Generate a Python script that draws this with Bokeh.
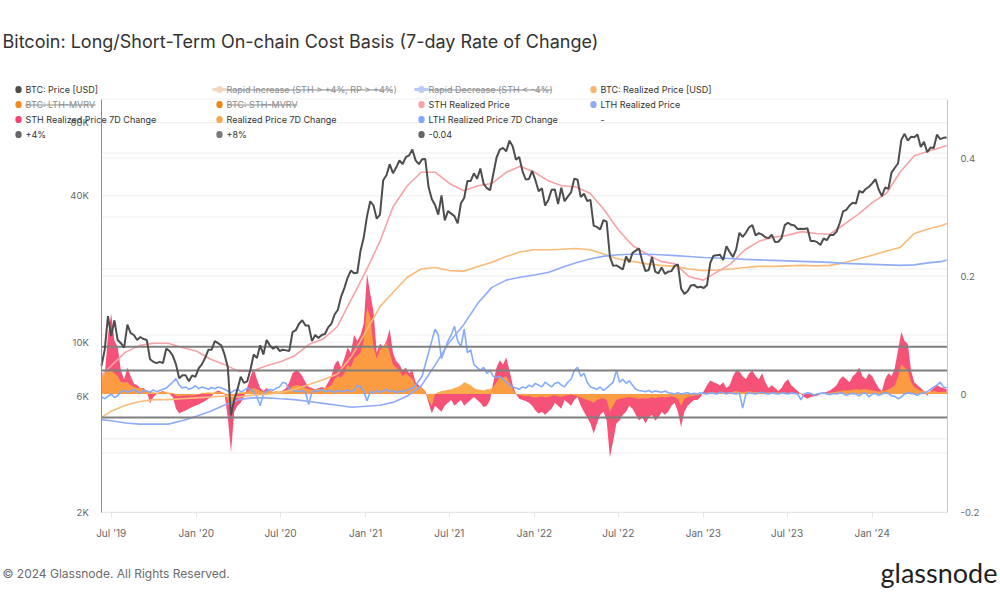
import pandas as pd
from bokeh.plotting import figure
from bokeh.models import (Range1d, LinearAxis, LinearScale, FixedTicker, DatetimeTickFormatter, Label)
from bokeh.embed import file_html
from bokeh.resources import INLINE

FONT = "Inter"

# ---------------------------------------------------------------- texts
TITLE = "Bitcoin: Long/Short-Term On-chain Cost Basis (7-day Rate of Change)"
FOOTER = "\u00a9 2024 Glassnode. All Rights Reserved."
BRAND = "glassnode"

# ---------------------------------------------------------------- data
WEEK_START = "2019-06-10"

# BTC price [USD], weekly
btc_price = [
    # 2019
    8000, 9300, 12800, 10600, 12300, 10200, 9900, 9500, 11800, 10900, 10700, 10200, 10500, 10300, 10200,
    8500, 8300, 8200, 8300, 8200, 9400, 9200, 8800, 8100, 7100, 7300, 7300, 6900, 7300, 7200,
    # 2020
    7800, 8100, 8600, 9300, 9300, 10100, 9900, 9700, 8900, 7900, 5000, 5800, 6400, 7200, 6800, 6900,
    7700, 8900, 8600, 9700, 8900, 10200, 9700, 9400, 9600, 9200, 9300, 9250, 9200, 11000, 11200, 11900,
    12300, 11700, 11700, 10100, 10700, 10400, 10700, 10800, 11500, 11900, 13000, 13600, 15400, 16700,
    18400, 19700, 19200, 19300, 23800, 27000,
    # 2021
    33000, 38000, 36500, 32200, 33500, 46400, 48600, 54000, 49600, 52300, 56000, 54100, 57700, 58700,
    62000, 56000, 54000, 56600, 56700, 43500, 38800, 36700, 33500, 40200, 31700, 34600, 33800, 33000,
    30800, 37300, 39200, 46000, 46000, 49500, 47000, 51800, 44900, 43000, 42200, 49200, 57500, 62000,
    63000, 61000, 67500, 63800, 56300, 57800, 50600, 46700, 46900, 50700,
    # 2022
    46400, 41800, 43000, 36500, 38500, 42400, 42500, 37000, 43200, 38000, 39700, 41300, 47100, 46600,
    39500, 40800, 38100, 38500, 30100, 29800, 29100, 31800, 31300, 22500, 20600, 20700, 20300, 19900,
    22500, 21300, 23300, 23800, 24300, 21500, 19600, 19800, 22400, 19500, 19200, 20300, 19100, 19500,
    19600, 20600, 20900, 16600, 15800, 16200, 17100, 17200, 16800, 16900,
    # 2023
    16700, 17200, 21200, 22700, 22800, 22900, 21800, 24800, 23500, 22400, 24100, 28200, 27100, 28200,
    29700, 30300, 27500, 28100, 27700, 27000, 26800, 27700, 25800, 25900, 26800, 30300, 31000, 30400,
    30200, 29200, 29300, 29200, 29400, 26100, 26100, 25800, 25100, 26700, 26300, 27600, 27600, 28500,
    31000, 34500, 35000, 36500, 37500, 37200, 41900, 41200, 42700, 43600,
    # 2024
    45000, 46900, 42500, 39900, 43300, 42700, 50000, 52200, 54500, 68000, 72000, 67500, 70000, 69700,
    71600, 63500, 66800, 60500, 63200, 62900, 71400, 68500, 69300, 69600,
]

# STH realized price 7D change (weekly)
sth_rp_7d_change = [
    # 2019
    0.02, 0.03, 0.10, 0.136, 0.09, 0.08, 0.04, 0.025, 0.045, 0.03, 0.018, 0.015, 0.01, 0.01, 0.005,
    -0.016, -0.005, 0.0, 0.003, 0.005, 0.002, 0.0, -0.005, -0.025, -0.033, -0.03, -0.028, -0.025, -0.022, -0.02,
    # 2020
    -0.018, -0.015, -0.012, -0.008, -0.004, 0.003, 0.006, 0.004, 0.0, -0.04, -0.099, -0.03, -0.02, -0.015,
    -0.005, 0.01, 0.03, 0.043, 0.025, 0.01, 0.005, 0.01, 0.006, 0.003, 0.002, 0.004, 0.006, 0.01, 0.02,
    0.035, 0.04, 0.038, 0.03, 0.02, 0.012, 0.01, 0.008, 0.01, 0.012, 0.01, 0.02, 0.03, 0.05, 0.057, 0.045,
    0.06, 0.079, 0.07, 0.1, 0.09, 0.1, 0.12,
    # 2021
    0.204, 0.17, 0.14, 0.07, 0.085, 0.08, 0.09, 0.11, 0.07, 0.056, 0.05, 0.04, 0.045, 0.035, 0.04, 0.02,
    0.015, 0.01, 0.005, -0.015, -0.033, -0.02, -0.025, -0.03, -0.02, -0.015, -0.01, -0.02, -0.015, -0.01,
    -0.02, -0.015, -0.01, -0.005, -0.01, -0.015, -0.022, -0.02, -0.01, 0.02, 0.045, 0.057, 0.05, 0.062,
    0.04, 0.015, 0.0, -0.008, -0.01, -0.012, -0.015, -0.02,
    # 2022
    -0.028, -0.033, -0.03, -0.035, -0.03, -0.025, -0.015, -0.02, -0.025, -0.01, -0.015, -0.02, -0.01,
    -0.005, -0.02, -0.03, -0.04, -0.05, -0.067, -0.05, -0.035, -0.03, -0.045, -0.107, -0.08, -0.05,
    -0.045, -0.035, -0.03, -0.02, -0.025, -0.035, -0.045, -0.04, -0.05, -0.04, -0.035, -0.045, -0.04,
    -0.03, -0.035, -0.03, -0.02, -0.015, -0.03, -0.056, -0.03, -0.02, -0.015, -0.01, -0.01, -0.005,
    # 2023
    0.005, 0.015, 0.023, 0.02, 0.018, 0.015, 0.02, 0.01, 0.015, 0.03, 0.04, 0.038, 0.03, 0.025, 0.035,
    0.04, 0.03, 0.025, 0.035, 0.02, 0.01, 0.015, 0.01, 0.005, 0.01, 0.02, 0.025, 0.015, 0.01, 0.005, 0.0,
    -0.005, -0.008, -0.005, -0.004, -0.003, 0.0, 0.002, 0.004, 0.006, 0.01, 0.015, 0.025, 0.03, 0.025,
    0.02, 0.03, 0.035, 0.045, 0.03, 0.025, 0.035,
    # 2024
    0.03, 0.02, 0.01, 0.005, 0.025, 0.035, 0.03, 0.045, 0.075, 0.105, 0.09, 0.085, 0.04, 0.02, 0.015,
    0.01, 0.005, -0.003, 0.005, 0.01, 0.015, 0.012, 0.01, 0.008,
]

# Realized price 7D change (weekly)
rp_7d_change = [
    # 2019
    0.03, 0.035, 0.04, 0.04, 0.035, 0.03, 0.02, 0.02, 0.02, 0.015, 0.012, 0.01, 0.01, 0.008, 0.006, 0.004,
    0.003, 0.002, 0.003, 0.004, 0.003, 0.002, 0.002, -0.003, -0.004, -0.003, -0.003, -0.002, -0.003, -0.002,
    # 2020
    -0.001, 0.002, 0.002, 0.003, 0.002, 0.003, 0.004, 0.003, 0.002, -0.01, -0.03, -0.005, 0.002, 0.003,
    0.003, 0.004, 0.008, 0.01, 0.008, 0.005, 0.004, 0.005, 0.006, 0.004, 0.005, 0.004, 0.005, 0.006,
    0.008, 0.013, 0.015, 0.015, 0.012, 0.01, 0.008, 0.007, 0.008, 0.009, 0.008, 0.01, 0.012, 0.015,
    0.025, 0.03, 0.028, 0.035, 0.05, 0.045, 0.06, 0.065, 0.07, 0.09,
    # 2021
    0.147, 0.13, 0.08, 0.06, 0.075, 0.08, 0.087, 0.07, 0.05, 0.045, 0.04, 0.03, 0.035, 0.03, 0.025,
    0.015, 0.01, 0.01, 0.005, -0.01, -0.02, 0.0, 0.003, 0.005, 0.006, 0.007, 0.008, 0.01, 0.012, 0.015,
    0.02, 0.018, 0.015, 0.01, 0.008, 0.007, 0.006, 0.008, 0.008, 0.012, 0.02, 0.03, 0.028, 0.03, 0.02,
    0.008, 0.0, -0.002, -0.003, -0.004, -0.003, -0.005,
    # 2022
    -0.006, -0.005, -0.004, -0.006, -0.005, -0.003, -0.002, -0.004, -0.005, -0.003, -0.002, -0.001,
    -0.002, -0.004, -0.006, -0.008, -0.01, -0.012, -0.015, -0.01, -0.008, -0.007, -0.01, -0.03, -0.02,
    -0.01, -0.008, -0.007, -0.006, -0.005, -0.006, -0.007, -0.008, -0.007, -0.008, -0.007, -0.006,
    -0.007, -0.006, -0.005, -0.006, -0.005, -0.004, -0.005, -0.008, -0.02, -0.008, -0.005, -0.004,
    -0.003, -0.002, -0.001,
    # 2023
    0.001, 0.002, 0.003, 0.003, 0.002, 0.002, 0.003, 0.002, 0.003, 0.004, 0.005, 0.004, 0.003, 0.004,
    0.005, 0.004, 0.003, 0.003, 0.002, 0.002, 0.003, 0.002, 0.002, 0.003, 0.003, 0.002, 0.002, 0.001,
    0.001, 0.002, 0.001, 0.0, 0.0, 0.001, 0.0, 0.0, 0.001, 0.001, 0.002, 0.002, 0.003, 0.004, 0.005,
    0.006, 0.006, 0.006, 0.007, 0.008, 0.007, 0.008, 0.008, 0.007,
    # 2024
    0.006, 0.005, 0.004, 0.005, 0.006, 0.008, 0.01, 0.015, 0.03, 0.05, 0.045, 0.04, 0.02, 0.012, 0.008,
    0.006, 0.005, 0.004, 0.004, 0.005, 0.004, 0.003, 0.004, 0.004,
]

# LTH realized price 7D change (weekly)
lth_rp_7d_change = [
    # 2019
    -0.005, -0.008, -0.004, 0.0, -0.006, -0.003, 0.004, 0.006, 0.003, 0.005, 0.008, 0.004, 0.002, 0.006,
    0.005, 0.003, 0.007, 0.004, 0.006, 0.008, 0.01, 0.015, 0.02, 0.026, 0.015, 0.01, 0.012, 0.008, 0.01, 0.014,
    # 2020
    0.009, 0.012, 0.01, 0.008, 0.011, 0.009, 0.012, 0.01, 0.008, 0.005, 0.002, 0.006, 0.008, 0.004,
    0.006, 0.01, 0.008, 0.004, -0.005, -0.02, 0.0, 0.005, 0.008, 0.006, 0.01, 0.012, 0.02, 0.018, 0.008,
    0.006, 0.005, 0.004, 0.006, 0.003, -0.018, 0.004, 0.006, 0.005, 0.008, 0.004, 0.006, 0.005, 0.003,
    0.006, 0.004, 0.005, 0.007, 0.004, 0.006, 0.015, 0.012, 0.005,
    # 2021
    -0.012, 0.004, 0.002, 0.006, 0.003, 0.005, 0.008, 0.004, 0.006, 0.002, 0.005, 0.004, 0.006, 0.008,
    0.01, 0.015, 0.022, 0.03, 0.05, 0.07, 0.09, 0.11, 0.1, 0.06, 0.075, 0.09, 0.1, 0.115, 0.09, 0.08,
    0.11, 0.07, 0.075, 0.05, 0.045, 0.04, 0.045, 0.035, 0.04, 0.03, 0.028, 0.03, 0.025, 0.02, 0.015,
    0.012, 0.01, 0.008, 0.012, 0.01, 0.015, 0.012,
    # 2022
    0.018, 0.015, 0.012, 0.02, 0.016, 0.012, 0.018, 0.02, 0.015, 0.012, 0.02, 0.025, 0.04, 0.045, 0.03,
    0.035, 0.02, 0.012, 0.01, 0.008, 0.012, 0.006, 0.01, 0.015, 0.02, 0.04, 0.02, 0.025, 0.018, 0.022,
    0.015, 0.008, 0.006, 0.005, 0.004, 0.006, 0.003, 0.005, 0.004, 0.003, 0.005, 0.002, 0.001, 0.0,
    0.002, 0.0, 0.001, 0.002, 0.0, 0.001, 0.0, 0.002,
    # 2023
    0.001, 0.0, 0.002, 0.001, 0.0, 0.003, 0.002, 0.0, 0.002, 0.001, 0.0, 0.002, -0.024, 0.0, 0.002,
    0.001, 0.0, 0.002, 0.003, 0.001, 0.0, 0.002, 0.001, 0.0, 0.002, 0.001, 0.0, 0.002, 0.001, 0.0,
    -0.01, 0.0, 0.002, 0.001, -0.002, 0.0, 0.001, 0.002, 0.0, -0.001, 0.001, 0.0, 0.002, 0.001, -0.002,
    0.0, 0.001, 0.0, -0.003, 0.001, 0.002, -0.005,
    # 2024
    0.0, 0.001, -0.002, 0.0, 0.002, 0.001, -0.003, -0.004, -0.008, -0.005, 0.0, 0.002, 0.001, 0.0,
    -0.002, 0.001, 0.002, 0.004, 0.008, 0.012, 0.015, 0.02, 0.012, 0.01,
]

# monthly cost-basis series (first of month, plus the two end points)
month_dates = (["2019-06-10"]
               + [d.strftime("%Y-%m-%d") for d in pd.date_range("2019-07-01", "2024-06-01", freq="MS")]
               + ["2024-06-10"])

sth_realized_price = [
    7300, 8000, 9100, 9700, 9900, 9900, 9500,
    9200, 8500, 8100, 7600, 7600, 8000, 8300, 8800, 9800, 10300, 11600, 15000,
    19500, 26000, 36000, 44000, 50000, 50000, 45000, 42000, 44000, 45000, 50000, 53000,
    50000, 46000, 44000, 43500, 41000, 35000, 29000, 25000, 23000, 21500, 21000, 18600,
    18000, 19500, 21000, 24000, 26000, 27000, 27500, 28500, 28000, 27800, 30500, 33500,
    37500, 41000, 50000, 58500, 61000, 63500, 64400,
]
realized_price = [
    4900, 5200, 5500, 5700, 5800, 5800, 5850,
    5900, 5950, 6000, 5950, 6050, 6100, 6200, 6400, 6700, 7000, 7400, 8700,
    11000, 14000, 16000, 18500, 20000, 20300, 19700, 19600, 20500, 21300, 22500, 23500,
    24000, 24000, 24100, 24300, 24000, 23000, 22000, 21500, 21000, 20700, 20500, 20000,
    19700, 19800, 20000, 20300, 20500, 20500, 20600, 20700, 20600, 20700, 21200, 22000,
    22800, 23700, 24500, 28000, 29200, 30300, 30800,
]
lth_realized_price = [
    4800, 4750, 4650, 4600, 4600, 4600, 4750,
    4950, 5200, 5500, 5800, 5900, 5900, 5850, 5800, 5700, 5600, 5500, 5400,
    5450, 5500, 5650, 6000, 6600, 8100, 10000, 11800, 14500, 16800, 18000, 18500,
    18900, 19400, 20300, 21200, 22000, 22600, 22900, 23000, 23000, 22900, 22700, 22500,
    22300, 22200, 22100, 21900, 21800, 21700, 21600, 21500, 21400, 21300, 21100, 21000,
    20900, 20800, 20700, 20800, 21200, 21500, 21800,
]

# threshold lines (right axis)
threshold_levels = [0.04, 0.08, -0.04]

# axes
window_start, window_end = "2019-06-10 16:00", "2024-06-12"
x_ticks = ["2019-07-01", "2020-01-01", "2020-07-01", "2021-01-01", "2021-07-01",
           "2022-01-01", "2022-07-01", "2023-01-01", "2023-07-01", "2024-01-01"]
left_bounds = (2000, 100000)
left_ticks = [2000, 6000, 10000, 40000, 80000]
left_tick_labels = ["2K", "6K", "10K", "40K", "80K"]
left_grid = [4000, 6000, 10000, 20000, 40000, 60000, 80000]
right_bounds = (-0.2, 0.5)
right_ticks = [-0.2, 0.0, 0.2, 0.4]
right_tick_labels = ["-0.2", "0", "0.2", "0.4"]
right_grid = [-0.2, -0.1, 0.0, 0.1, 0.2, 0.3, 0.4, 0.5]

legend_rows = [
    ["BTC: Price [USD]", "Rapid Increase (STH > +4%, RP > +4%)", "Rapid Decrease (STH < -4%)", "BTC: Realized Price [USD]"],
    ["BTC: LTH-MVRV", "BTC: STH-MVRV", "STH Realized Price", "LTH Realized Price"],
    ["STH Realized Price 7D Change", "Realized Price 7D Change", "LTH Realized Price 7D Change", "-"],
    ["+4%", "+8%", "-0.04"],
]
# hidden (struck-through) legend items -> approx. rendered text width in px
hidden_items = {"Rapid Increase (STH > +4%, RP > +4%)": 167, "Rapid Decrease (STH < -4%)": 123,
                "BTC: LTH-MVRV": 70, "BTC: STH-MVRV": 71}

# ---------------------------------------------------------------- styles / layout
C_PRICE = "#4d4d4d"
C_STH = "#f7a3a6"
C_RP = "#f8bb78"
C_LTH = "#90acf8"
C_STH_CHG = "#f5436d"
C_RP_CHG = "#fba33f"
C_LTH_CHG = "#7ea7fc"
C_THR = "#7f7f7f"
C_GRID = "#efefef"

legend_markers = [
    [("dot", C_PRICE), ("line", "#f5d6c2"), ("line", "#b7cbf3"), ("dot", "#f8b56c")],
    [("dot", "#f28c1f"), ("dot", "#ef8913"), ("dot", "#f8a5a5"), ("dot", "#8faaf8")],
    [("dot", C_STH_CHG), ("dot", "#f9a64d"), ("dot", "#80a8fa"), (None, None)],
    [("dot", "#666666"), ("dot", "#7a7a7a"), ("dot", "#666666")],
]

LEGEND_FONT_SIZE = "9px"
YTICK_FONT_SIZE = "9.5px"
XTICK_FONT_SIZE = "10px"

W, H = 1000, 600
# pixel geometry of the plotting window in the picture
PX_T0, T0, PX_PER_DAY = 110.7, pd.Timestamp("2019-07-01"), 0.46261
PY_2K, PX_PER_DECADE = 511.5, 243.0
PY_ZERO, PX_PER_UNIT = 393.5, 590.0

x_lo = T0 - pd.Timedelta(days=PX_T0 / PX_PER_DAY)
x_hi = T0 + pd.Timedelta(days=(W - PX_T0) / PX_PER_DAY)
y_lo = 2000 * 10 ** (-(H - PY_2K) / PX_PER_DECADE)
y_hi = 2000 * 10 ** (PY_2K / PX_PER_DECADE)
c_lo = -(H - PY_ZERO) / PX_PER_UNIT
c_hi = PY_ZERO / PX_PER_UNIT

ws, we = pd.Timestamp(window_start), pd.Timestamp(window_end)
ms = lambda t: pd.Timestamp(t).value // 10**6

# ---------------------------------------------------------------- figure
p = figure(width=W, height=H, x_axis_type="datetime", y_axis_type="log",
           x_range=Range1d(x_lo, x_hi), y_range=Range1d(y_lo, y_hi),
           output_backend="svg", toolbar_location=None, title=None,
           min_border_left=0, min_border_right=0, min_border_top=0, min_border_bottom=0)
p.outline_line_color = None
p.background_fill_color = "white"
p.border_fill_color = "white"
p.extra_y_ranges = {"chg": Range1d(c_lo, c_hi)}
p.extra_y_scales = {"chg": LinearScale()}
p.xgrid.visible = False
p.ygrid.visible = False

# left axis
la = p.left[0]
la.fixed_location = ms(ws)
la.bounds = left_bounds
la.ticker = FixedTicker(ticks=left_ticks)
la.major_label_overrides = dict(zip(left_ticks, left_tick_labels))
la.major_tick_line_color = None
la.major_tick_out = 0
la.major_tick_in = 0
la.minor_tick_line_color = None
la.axis_line_color = "#8f8f8f"
la.major_label_text_font = FONT
la.major_label_text_font_size = YTICK_FONT_SIZE
la.major_label_text_color = "#666666"
la.major_label_standoff = 13

# x axis
xa = p.below[0]
xa.fixed_location = left_bounds[0]
xa.bounds = (ms(ws), ms(we))
xa.ticker = FixedTicker(ticks=[ms(t) for t in x_ticks])
xa.formatter = DatetimeTickFormatter(months="%b '%y", years="%b '%y", days="%b '%y", hours="%b '%y")
xa.axis_line_color = "#e6e6e6"
xa.major_tick_line_color = "#e6e6e6"
xa.major_tick_in = 0
xa.major_tick_out = 5
xa.minor_tick_line_color = None
xa.major_label_text_font = FONT
xa.major_label_text_font_size = XTICK_FONT_SIZE
xa.major_label_text_color = "#666666"
xa.major_label_standoff = 10

# right axis
ra = LinearAxis(y_range_name="chg", ticker=FixedTicker(ticks=right_ticks))
ra.fixed_location = ms(we)
ra.bounds = right_bounds
ra.major_label_overrides = dict(zip(right_ticks, right_tick_labels))
ra.major_tick_line_color = None
ra.major_tick_out = 0
ra.major_tick_in = 0
ra.minor_tick_line_color = None
ra.axis_line_color = "#f9bd83"
ra.major_label_text_font = FONT
ra.major_label_text_font_size = YTICK_FONT_SIZE
ra.major_label_text_color = "#666666"
ra.major_label_standoff = 13
p.add_layout(ra, "right")

# grid lines inside the plotting window
p.segment(x0=[ws] * len(left_grid), x1=[we] * len(left_grid), y0=left_grid, y1=left_grid,
          line_color=C_GRID, line_width=1)
p.segment(x0=[ws] * len(right_grid), x1=[we] * len(right_grid), y0=right_grid, y1=right_grid,
          y_range_name="chg", line_color=C_GRID, line_width=1)

# ---------------------------------------------------------------- series
wk = pd.date_range(WEEK_START, periods=len(btc_price), freq="7D")
wk_sth = pd.date_range(WEEK_START, periods=len(sth_rp_7d_change), freq="7D")
wk_rp = pd.date_range(WEEK_START, periods=len(rp_7d_change), freq="7D")
wk_lth = pd.date_range(WEEK_START, periods=len(lth_rp_7d_change), freq="7D")
mdates = pd.to_datetime(month_dates)

p.varea(x=wk_sth, y1=0, y2=sth_rp_7d_change, y_range_name="chg", fill_color=C_STH_CHG, fill_alpha=0.92)
p.varea(x=wk_rp, y1=0, y2=rp_7d_change, y_range_name="chg", fill_color=C_RP_CHG, fill_alpha=0.92)
p.line(x=wk_lth, y=lth_rp_7d_change, y_range_name="chg", line_color=C_LTH_CHG, line_width=1.6, line_alpha=0.95)

p.line(x=mdates, y=realized_price, line_color=C_RP, line_width=1.6)
p.line(x=mdates, y=sth_realized_price, line_color=C_STH, line_width=1.6)
p.line(x=mdates, y=lth_realized_price, line_color=C_LTH, line_width=1.6)

p.segment(x0=[ws] * len(threshold_levels), x1=[we] * len(threshold_levels),
          y0=threshold_levels, y1=threshold_levels, y_range_name="chg", line_color=C_THR, line_width=2)

p.line(x=wk, y=btc_price, line_color=C_PRICE, line_width=2)

# ---------------------------------------------------------------- annotations (picture px)
def add_text(px, py, text, size="11px", color="#333333", align="left", font=FONT):
    p.add_layout(Label(x=px, y=H - py, x_units="screen", y_units="screen", text=text,
                       text_font=font, text_font_size=size, text_color=color,
                       text_align=align, text_baseline="middle"))


def add_box(px, py, w, h, color, radius=0):
    p.add_layout(Label(x=px, y=H - py, x_units="screen", y_units="screen", text=" ",
                       text_font_size="1px", text_align="center", text_baseline="middle",
                       background_fill_color=color, padding=(int(w / 2), int(h / 2)),
                       border_radius=radius))


add_text(2, 41, TITLE, size="18px", color="#333333")
add_text(2, 573, FOOTER, size="12px", color="#6b6b6b")
add_text(997, 572, BRAND, size="27px", color="#1f1f1f", align="right", font="Lato")

col_x = [18, 219, 421, 593]
row_y = [89, 104, 119, 134]
for r, row in enumerate(legend_rows):
    for c, label in enumerate(row):
        mx, my = col_x[c], row_y[r]
        kind, color = legend_markers[r][c]
        hidden = label in hidden_items
        if kind == "dot":
            add_box(mx, my, 7, 7, color, radius=4)
        elif kind == "line":
            add_box(mx, my, 14, 2, color)
            add_box(mx, my, 6, 6, color, radius=3)
        add_text(mx + 7, my, label, size=LEGEND_FONT_SIZE, color="#8c8c8c" if hidden else "#333333")
        if hidden:
            wdt = hidden_items[label]
            add_box(mx + 7 + wdt / 2, my + 0.5, wdt, 1, "#8c8c8c")

open("out.html", "w").write(file_html(p, INLINE))
